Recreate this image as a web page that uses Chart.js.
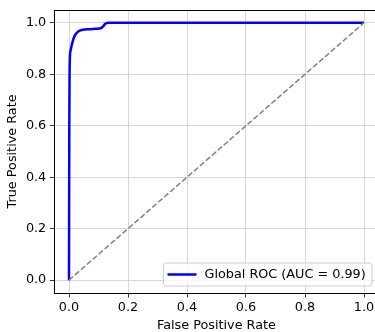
<html>
  <head>
    <script src="https://cdn.jsdelivr.net/npm/chart.js@4/dist/chart.umd.min.js"></script>
    <style>
      body { margin: 0; overflow: hidden; background: #fff; }
    </style>
  </head>

  <body>
    <canvas id="roc" width="380" height="332"></canvas>

    <script>
      // ROC curve
      const fpr = [0, 0.001, 0.002, 0.003, 0.006, 0.01, 0.019, 0.03, 0.047, 0.07, 0.09, 0.108, 0.115, 0.122, 0.132, 1.0]
      const tpr = [0, 0.6, 0.8, 0.865, 0.895, 0.917, 0.949, 0.965, 0.973, 0.975, 0.977, 0.979, 0.985, 0.995, 1.0, 1.0]
      // chance line
      const diagX = [0, 1]
      const diagY = [0, 1]
      const tickVals = [0, 0.2, 0.4, 0.6, 0.8, 1.0]
      const rocLabel = 'Global ROC (AUC = 0.99)'

      const FONT = 'DejaVu Sans'
      const FS = 12.8
      const font = { family: FONT, size: FS, lineHeight: 1 }

      // four spines + legend box, the way matplotlib draws them
      const frame = {
        id: 'frame',
        afterDraw(chart) {
          const ctx = chart.ctx
          const a = chart.chartArea
          ctx.save()
          ctx.strokeStyle = '#000'
          ctx.lineWidth = 1
          ctx.strokeRect(Math.round(a.left) + 0.5, Math.round(a.top) + 0.5, a.right - a.left, Math.round(a.bottom - a.top))

          // legend, lower right
          const w = 208.5, h = 23
          const x = a.right - 6.75 - w
          const y = a.bottom - 7 - h
          ctx.beginPath()
          ctx.roundRect(x, y, w, h, 3)
          ctx.fillStyle = 'rgba(255,255,255,0.8)'
          ctx.fill()
          ctx.strokeStyle = '#cccccc'
          ctx.lineWidth = 1
          ctx.stroke()
          ctx.beginPath()
          ctx.moveTo(x + 4, y + h / 2)
          ctx.lineTo(x + 33, y + h / 2)
          ctx.strokeStyle = '#0000ff'
          ctx.lineWidth = 2.5
          ctx.stroke()
          ctx.fillStyle = '#000'
          ctx.font = FS + 'px "' + FONT + '"'
          ctx.textBaseline = 'middle'
          ctx.fillText(rocLabel, x + 41, y + h / 2 + 0.5)
          ctx.restore()
        },
      }

      function axis(title) {
        return {
          type: 'linear',
          min: -0.05,
          max: 1.05,
          afterBuildTicks: (s) => { s.ticks = tickVals.map((v) => ({ value: v })) },
          border: { display: false },
          grid: { color: '#cbcbcb', lineWidth: 0.8, tickLength: 4.5, tickColor: '#000', tickWidth: 0.8 },
          ticks: { color: '#000', font: font, padding: 3.5, callback: (v) => v.toFixed(1) },
          title: { display: true, text: title, color: '#000', font: font },
        }
      }

      const xAxis = axis('False Positive Rate')
      xAxis.afterFit = (s) => { s.height = 39 }
      xAxis.ticks.maxRotation = 0
      xAxis.title.padding = { top: 0, bottom: 0 }
      const yAxis = axis('True Positive Rate')
      yAxis.afterFit = (s) => { s.width = 54.25 }
      yAxis.title.padding = { top: 6.5, bottom: 0 }

      new Chart(document.getElementById('roc'), {
        type: 'line',
        data: {
          datasets: [
            {
              label: rocLabel,
              data: fpr.map((v, i) => ({ x: v, y: tpr[i] })),
              borderColor: '#0000ff',
              borderWidth: 2.5,
              pointRadius: 0,
              cubicInterpolationMode: 'monotone',
              order: 2,
            },
            {
              label: 'chance',
              data: diagX.map((v, i) => ({ x: v, y: diagY[i] })),
              borderColor: '#808080',
              borderWidth: 1.5,
              borderDash: [5.5, 2.4],
              pointRadius: 0,
              order: 1,
            },
          ],
        },
        options: {
          responsive: false,
          animation: false,
          layout: { padding: { top: 7, right: 1.25, left: 0, bottom: 0 } },
          plugins: { legend: { display: false }, tooltip: { enabled: false } },
          scales: { x: xAxis, y: yAxis },
        },
        plugins: [frame],
      })
    </script>
  </body>
</html>
